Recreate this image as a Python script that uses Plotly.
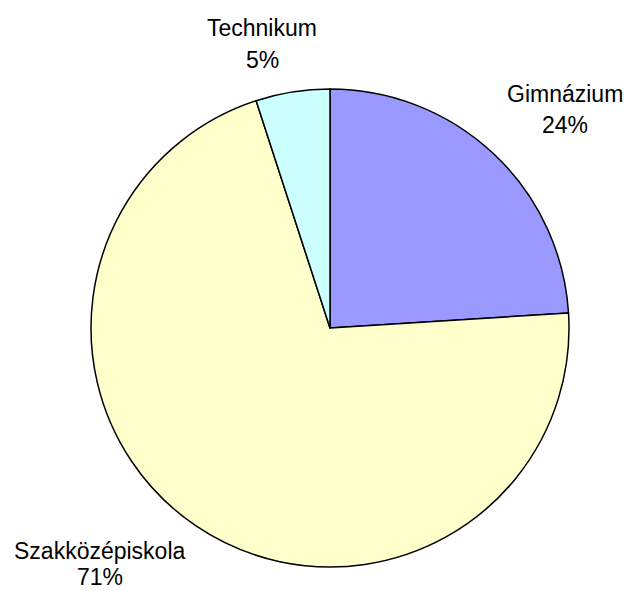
import plotly.graph_objects as go

categories = ["Gimnázium", "Szakközépiskola", "Technikum"]
values = [24, 71, 5]
colors = ["#9999FF", "#FFFFCC", "#CCFFFF"]

W, H = 632, 591
cx, cy, r = 330, 328, 239

fig = go.Figure(go.Pie(
    labels=categories, values=values, sort=False, direction="clockwise",
    rotation=0, textinfo="none", hoverinfo="label+percent",
    marker=dict(colors=colors, line=dict(color="black", width=1.5)),
    domain=dict(x=[(cx - r) / W, (cx + r) / W], y=[1 - (cy + r) / H, 1 - (cy - r) / H]),
    showlegend=False,
))

total = sum(values)
# (x center, name line y, percent line y) in pixels
label_pos = {"Gimnázium": (565, 94, 125), "Szakközépiskola": (100, 551, 577), "Technikum": (262, 28, 60)}
font = dict(family="Liberation Sans, Arial", size=23, color="black")
for cat, v in zip(categories, values):
    x, y1, y2 = label_pos[cat]
    for txt, y in ((cat, y1), (f"{round(100 * v / total)}%", y2)):
        fig.add_annotation(
            x=x / W, y=1 - y / H, xref="paper", yref="paper",
            text=txt, showarrow=False, font=font,
            xanchor="center", yanchor="middle", borderpad=0,
        )

fig.update_layout(width=W, height=H, margin=dict(l=0, r=0, t=0, b=0),
                  paper_bgcolor="white", plot_bgcolor="white")
fig.write_html("out.html", config={"displayModeBar": False},
               post_script="document.body.style.margin='0';")
